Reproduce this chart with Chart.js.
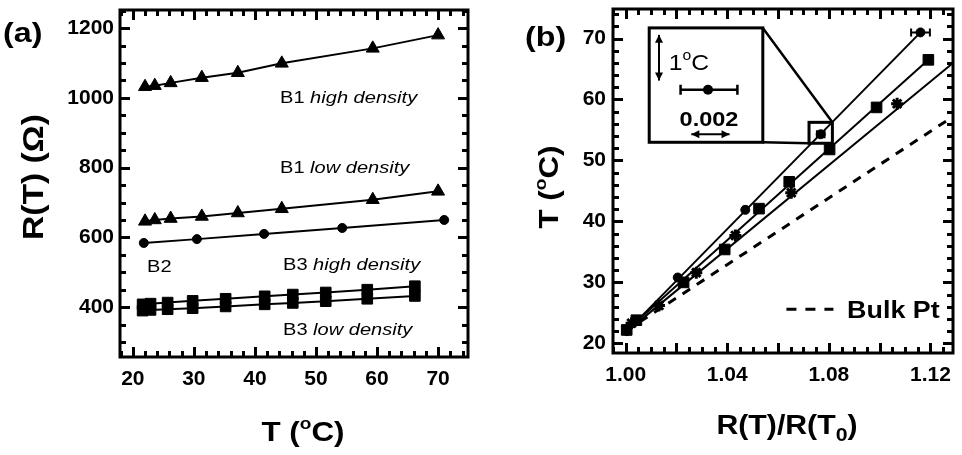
<!DOCTYPE html>
<html>
<head>
<meta charset="utf-8">
<script src="https://cdn.jsdelivr.net/npm/chart.js@4.4.1/dist/chart.umd.min.js"></script>
<style>
  html, body { margin: 0; padding: 0; background: #fff; }
  #wrap { position: relative; width: 962px; height: 455px; }
  canvas { position: absolute; top: 0; }
  #chartA { left: 0; }
  #chartB { left: 480px; }
</style>
</head>
<body>
<div id="wrap">
  <canvas id="chartA" width="480" height="455"></canvas>
  <canvas id="chartB" width="482" height="455"></canvas>
</div>
<script>
const FONT = "'Liberation Sans', Arial, Helvetica, sans-serif";

// ---- panel (a) : R(T) vs T ----
const tempB1 = [22.0, 23.6, 26.2, 31.3, 37.2, 44.4, 59.3, 70.0];
const rB1High = [1032, 1035, 1043, 1058, 1072, 1099, 1142, 1180];
const rB1Low = [646, 650, 654, 660, 670, 682, 708, 732];
const tempB2 = [21.8, 30.5, 41.5, 54.3, 71.0];
const rB2 = [584, 595, 610, 627, 650];
const tempB3 = [21.6, 22.9, 25.7, 29.8, 35.2, 41.6, 46.2, 51.6, 58.4, 66.2];
const rB3High = [408, 410, 413, 418, 424, 431, 436, 442, 450, 460];
const rB3Low = [390, 392, 394, 397, 402, 408, 412, 417, 424, 432];
const ticksAx = [20, 30, 40, 50, 60, 70];
const ticksAy = [400, 600, 800, 1000, 1200];
const rangeA = { xMin: 17.9, xMax: 74.9, yMin: 257, yMax: 1252 };

// ---- panel (b) : T vs R(T)/R(T0) ----
const ratioCirc = [1.0005, 1.0040, 1.0205, 1.0471, 1.0768, 1.1161];
const tempCirc = [22.0, 23.7, 30.8, 41.9, 54.3, 71.0];
const errCirc = [0, 0, 0, 0.0008, 0.0015, 0.0037];
const ratioSq = [1.0004, 1.0042, 1.0228, 1.0390, 1.0525, 1.0644, 1.0803, 1.0988, 1.1192];
const tempSq = [22.2, 23.8, 30.0, 35.4, 42.1, 46.5, 51.8, 58.7, 66.5];
const ratioStar = [1.0023, 1.0131, 1.0278, 1.0432, 1.0652, 1.1069];
const tempStar = [23.3, 26.2, 31.6, 37.7, 44.7, 59.3];
// straight fits (end points)
const fitCircX = [1.0, 1.1161], fitCircY = [21.8, 71.0];
const fitSqX = [1.0, 1.1192], fitSqY = [22.0, 66.5];
const fitStarX = [1.0, 1.1289], fitStarY = [21.8, 66.0];
const bulkX = [1.0, 1.1289], bulkY = [22.0, 57.2];
const ticksBx = [1.00, 1.04, 1.08, 1.12];
const ticksBy = [20, 30, 40, 50, 60, 70];
const rangeB = { xMin: 0.995, xMax: 1.1289, yMin: 18.42, yMax: 74.84 };

const pts = (xs, ys) => xs.map((x, i) => ({ x: x, y: ys[i] }));

// text with super/subscripts, y = middle of capitals
function rich(ctx, parts, x, y, o) {
  const size = o.size, sx = o.sx || 1;
  const fontOf = p => `${p.italic ? 'italic ' : ''}${o.weight || 'normal'} ${p.sup ? Math.round(size * 0.62) : p.sub ? Math.round(size * 0.72) : size}px ${FONT}`;
  let total = 0;
  const w = parts.map(p => { ctx.font = fontOf(p); const m = ctx.measureText(p.t).width; total += m; return m; });
  ctx.save();
  ctx.translate(x, y);
  if (o.rotate) ctx.rotate(-Math.PI / 2);
  ctx.scale(sx, 1);
  ctx.fillStyle = '#000';
  ctx.textBaseline = 'alphabetic';
  ctx.textAlign = 'left';
  let cx = o.align === 'center' ? -total / 2 : 0;
  const base = size * 0.36;
  parts.forEach((p, i) => {
    ctx.font = fontOf(p);
    const dy = p.sup ? -size * 0.42 : p.sub ? size * 0.26 : 0;
    ctx.fillText(p.t, cx, base + dy);
    cx += w[i];
  });
  ctx.restore();
}

// box + inward ticks on all four sides
function drawFrame(chart, rg, xMinor, xMajor, yMinor, yMajor) {
  const ctx = chart.ctx;
  const a = chart.chartArea;
  const scX = chart.scales.x, scY = chart.scales.y;
  const isMajor = (v, step) => Math.abs(v / step - Math.round(v / step)) < 1e-6;
  const xv = [], yv = [];
  for (let n = Math.ceil(rg.xMin / xMinor - 1e-6); n <= Math.floor(rg.xMax / xMinor + 1e-6); n++) xv.push(n * xMinor);
  for (let n = Math.ceil(rg.yMin / yMinor - 1e-6); n <= Math.floor(rg.yMax / yMinor + 1e-6); n++) yv.push(n * yMinor);
  ctx.save();
  ctx.fillStyle = '#000';
  xv.forEach(v => {
    const len = isMajor(v, xMajor) ? 10 : 6;
    const px = Math.round(scX.getPixelForValue(v));
    ctx.fillRect(px - 1, a.bottom - len, 3, len);
    ctx.fillRect(px - 1, a.top, 3, len);
  });
  yv.forEach(v => {
    const len = isMajor(v, yMajor) ? 10 : 6;
    const py = Math.round(scY.getPixelForValue(v));
    ctx.fillRect(a.left, py - 1, len, 3);
    ctx.fillRect(a.right - len, py - 1, len, 3);
  });
  ctx.strokeStyle = '#000';
  ctx.lineWidth = 3;
  ctx.strokeRect(a.left, a.top, a.right - a.left, a.bottom - a.top);
  ctx.restore();
}

function head(ctx, x, y, ang, s) {
  ctx.beginPath();
  ctx.moveTo(x, y);
  ctx.lineTo(x - s * Math.cos(ang) + s * 0.5 * Math.sin(ang), y - s * Math.sin(ang) - s * 0.5 * Math.cos(ang));
  ctx.lineTo(x - s * Math.cos(ang) - s * 0.5 * Math.sin(ang), y - s * Math.sin(ang) + s * 0.5 * Math.cos(ang));
  ctx.closePath();
  ctx.fill();
}
function dblArrow(ctx, x1, y1, x2, y2) {
  const ang = Math.atan2(y2 - y1, x2 - x1);
  ctx.beginPath(); ctx.moveTo(x1, y1); ctx.lineTo(x2, y2); ctx.stroke();
  head(ctx, x2, y2, ang, 8);
  head(ctx, x1, y1, ang + Math.PI, 8);
}

const tickFont = { family: FONT, size: 21, weight: 'bold' };
const noGrid = { display: false, drawTicks: false };
// drop the label padding Chart.js reserves, so the plot box sits where we want
const noPad = s => { s.paddingTop = 0; s.paddingBottom = 0; s.paddingLeft = 0; s.paddingRight = 0; };

// ---------------- chart (a) ----------------
const markA = { borderColor: '#000', backgroundColor: '#000', borderWidth: 2, showLine: true, pointBorderWidth: 1 };

new Chart(document.getElementById('chartA'), {
  type: 'scatter',
  data: {
    datasets: [
      { ...markA, data: pts(tempB1, rB1High), pointStyle: 'triangle', pointRadius: 7.5 },
      { ...markA, data: pts(tempB1, rB1Low), pointStyle: 'triangle', pointRadius: 7.5 },
      { ...markA, data: pts(tempB2, rB2), pointStyle: 'circle', pointRadius: 4.5 },
      { ...markA, data: pts(tempB3, rB3High), pointStyle: 'rect', pointRadius: 7.5 },
      { ...markA, data: pts(tempB3, rB3Low), pointStyle: 'rect', pointRadius: 7.5 },
    ],
  },
  options: {
    responsive: false,
    animation: false,
    devicePixelRatio: 1,
    layout: { padding: { top: 10, right: 12, left: 0, bottom: 0 } },
    plugins: { legend: { display: false }, tooltip: { enabled: false } },
    scales: {
      x: {
        type: 'linear', min: rangeA.xMin, max: rangeA.xMax,
        grid: noGrid, border: { display: false },
        afterBuildTicks: s => { s.ticks = ticksAx.map(v => ({ value: v })); },
        afterFit: s => { s.height = 98; noPad(s); },
        ticks: { font: tickFont, color: '#000', padding: 10, maxRotation: 0, callback: v => String(v) },
      },
      y: {
        type: 'linear', min: rangeA.yMin, max: rangeA.yMax,
        grid: noGrid, border: { display: false },
        afterBuildTicks: s => { s.ticks = ticksAy.map(v => ({ value: v })); },
        afterFit: s => { s.width = 120; noPad(s); },
        ticks: { font: tickFont, color: '#000', padding: 6, callback: v => String(v) },
      },
    },
  },
  plugins: [{
    id: 'decorA',
    afterDraw(chart) {
      const ctx = chart.ctx;
      drawFrame(chart, rangeA, 2, 10, 50, 200);
      rich(ctx, [{ t: '(a)' }], 3, 32, { size: 28, weight: 'bold', sx: 1.15 });
      rich(ctx, [{ t: 'R(T) (\u03A9)' }], 32, 177, { size: 30, weight: 'bold', rotate: true, align: 'center', sx: 1.12 });
      rich(ctx, [{ t: 'T (' }, { t: 'o', sup: true }, { t: 'C)' }], 303, 431, { size: 28, weight: 'bold', align: 'center', sx: 1.12 });
      const lab = { size: 17, sx: 1.18 };
      rich(ctx, [{ t: 'B1 ' }, { t: 'high density', italic: true }], 280, 97, lab);
      rich(ctx, [{ t: 'B1 ' }, { t: 'low density', italic: true }], 280, 167, lab);
      rich(ctx, [{ t: 'B2' }], 147, 266, lab);
      rich(ctx, [{ t: 'B3 ' }, { t: 'high density', italic: true }], 283, 264, lab);
      rich(ctx, [{ t: 'B3 ' }, { t: 'low density', italic: true }], 283, 329, lab);
    },
  }],
});

// ---------------- chart (b) ----------------
// inset / annotation positions in data units of panel (b)
const inset = { x1: 1.00926, x2: 1.0540, yTop: 71.74, yBot: 52.98 };
const zoomBox = { x1: 1.0722, x2: 1.0814, yTop: 56.25, yBot: 52.82 };

new Chart(document.getElementById('chartB'), {
  type: 'scatter',
  data: {
    datasets: [
      { data: pts(ratioCirc, tempCirc), pointStyle: 'circle', pointRadius: 4.5, backgroundColor: '#000', borderColor: '#000' },
      { data: pts(ratioSq, tempSq), pointStyle: 'rect', pointRadius: 7.5, backgroundColor: '#000', borderColor: '#000' },
      { data: pts(ratioStar, tempStar), pointStyle: 'star', pointRadius: 6, pointBorderWidth: 3, backgroundColor: '#000', borderColor: '#000' },
      { data: pts(fitCircX, fitCircY), showLine: true, pointRadius: 0, borderColor: '#000', borderWidth: 2 },
      { data: pts(fitSqX, fitSqY), showLine: true, pointRadius: 0, borderColor: '#000', borderWidth: 2 },
      { data: pts(fitStarX, fitStarY), showLine: true, pointRadius: 0, borderColor: '#000', borderWidth: 2 },
      { data: pts(bulkX, bulkY), showLine: true, pointRadius: 0, borderColor: '#000', borderWidth: 3, borderDash: [9, 8] },
    ],
  },
  options: {
    responsive: false,
    animation: false,
    devicePixelRatio: 1,
    layout: { padding: { top: 7, right: 2, left: 0, bottom: 0 } },
    plugins: { legend: { display: false }, tooltip: { enabled: false } },
    scales: {
      x: {
        type: 'linear', min: rangeB.xMin, max: rangeB.xMax,
        grid: noGrid, border: { display: false },
        afterBuildTicks: s => { s.ticks = ticksBx.map(v => ({ value: v })); },
        afterFit: s => { s.height = 102; noPad(s); },
        ticks: { font: tickFont, color: '#000', padding: 10, maxRotation: 0, callback: v => v.toFixed(2) },
      },
      y: {
        type: 'linear', min: rangeB.yMin, max: rangeB.yMax,
        grid: noGrid, border: { display: false },
        afterBuildTicks: s => { s.ticks = ticksBy.map(v => ({ value: v })); },
        afterFit: s => { s.width = 133; noPad(s); },
        ticks: { font: tickFont, color: '#000', padding: 7, callback: v => String(v) },
      },
    },
  },
  plugins: [{
    id: 'decorB',
    afterDraw(chart) {
      const { ctx, scales: { x, y } } = chart;
      const X = v => x.getPixelForValue(v), Y = v => y.getPixelForValue(v);
      drawFrame(chart, rangeB, 0.005, 0.02, 2, 10);

      ctx.save();
      ctx.strokeStyle = '#000';
      ctx.fillStyle = '#000';
      // horizontal error bars on the circles
      ctx.lineWidth = 2;
      ratioCirc.forEach((r, i) => {
        const e = errCirc[i];
        if (!e) return;
        const py = Y(tempCirc[i]);
        ctx.beginPath();
        ctx.moveTo(X(r - e), py); ctx.lineTo(X(r + e), py);
        ctx.moveTo(X(r - e), py - 4); ctx.lineTo(X(r - e), py + 4);
        ctx.moveTo(X(r + e), py - 4); ctx.lineTo(X(r + e), py + 4);
        ctx.stroke();
      });

      // inset frame, zoom box and connectors
      ctx.lineWidth = 3;
      ctx.strokeRect(X(inset.x1), Y(inset.yTop), X(inset.x2) - X(inset.x1), Y(inset.yBot) - Y(inset.yTop));
      ctx.strokeRect(X(zoomBox.x1), Y(zoomBox.yTop), X(zoomBox.x2) - X(zoomBox.x1), Y(zoomBox.yBot) - Y(zoomBox.yTop));
      ctx.lineWidth = 2.5;
      ctx.beginPath();
      ctx.moveTo(X(inset.x2), Y(inset.yTop)); ctx.lineTo(X(zoomBox.x2), Y(zoomBox.yTop));
      ctx.moveTo(X(inset.x2), Y(inset.yBot)); ctx.lineTo(X(zoomBox.x1), Y(zoomBox.yBot));
      ctx.stroke();

      // inset content
      ctx.lineWidth = 2;
      dblArrow(ctx, X(1.01312), Y(70.6), X(1.01312), Y(63.1));
      rich(ctx, [{ t: '1' }, { t: 'o', sup: true }, { t: 'C' }], X(1.0170), Y(66.2), { size: 22, sx: 1.12 });
      ctx.lineWidth = 2.5;
      ctx.beginPath();
      ctx.moveTo(X(1.02161), Y(61.6)); ctx.lineTo(X(1.04399), Y(61.6));
      ctx.moveTo(X(1.02161), Y(61.6) - 5); ctx.lineTo(X(1.02161), Y(61.6) + 5);
      ctx.moveTo(X(1.04399), Y(61.6) - 5); ctx.lineTo(X(1.04399), Y(61.6) + 5);
      ctx.stroke();
      ctx.beginPath(); ctx.arc(X(1.03241), Y(61.6), 5, 0, Math.PI * 2); ctx.fill();
      rich(ctx, [{ t: '0.002' }], X(1.0328), Y(56.9), { size: 21, weight: 'bold', align: 'center', sx: 1.12 });
      ctx.lineWidth = 2;
      dblArrow(ctx, X(1.02585), Y(54.3), X(1.0409), Y(54.3));

      // bulk Pt key
      ctx.lineWidth = 3;
      ctx.setLineDash([10, 9]);
      ctx.beginPath(); ctx.moveTo(X(1.0633), Y(25.6)); ctx.lineTo(X(1.0818), Y(25.6)); ctx.stroke();
      ctx.setLineDash([]);
      ctx.restore();
      rich(ctx, [{ t: 'Bulk Pt' }], X(1.0872), Y(25.6), { size: 24, weight: 'bold', sx: 1.12 });

      // titles
      rich(ctx, [{ t: '(b)' }], 45, 36, { size: 28, weight: 'bold', sx: 1.15 });
      rich(ctx, [{ t: 'T (' }, { t: 'o', sup: true }, { t: 'C)' }], 68, 187, { size: 28, weight: 'bold', rotate: true, align: 'center', sx: 1.12 });
      rich(ctx, [{ t: 'R(T)/R(T' }, { t: '0', sub: true }, { t: ')' }], 307, 424, { size: 27, weight: 'bold', align: 'center', sx: 1.12 });
    },
  }],
});
</script>
</body>
</html>
